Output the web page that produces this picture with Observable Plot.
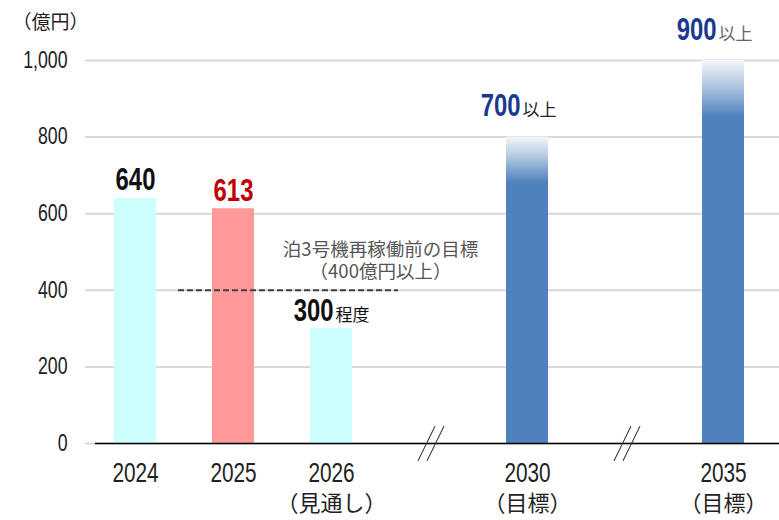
<!DOCTYPE html>
<html><head><meta charset="utf-8">
<script src="https://cdn.jsdelivr.net/npm/d3@7"></script>
<script src="https://cdn.jsdelivr.net/npm/@observablehq/plot@0.6"></script>
<style>body{margin:0;background:#fff}</style>
</head><body><div id="chart"></div>
<script>
// ---- data ----
const slots = ["2024", "2025", "2026", "gapA", "2030", "gapB", "2035"];
const categories = ["2024", "2025", "2026", "2030", "2035"];
const subLabels = ["", "", "（見通し）", "（目標）", "（目標）"];
const values = [640, 613, 300, 700, 900];
const fadeTops = [null, null, null, 800, 1000];
const suffixes = ["", "", "程度", "以上", "以上"];
const kinds = ["actual", "actual", "outlook", "target", "target"];
const barColors = ["#ccffff", "#ff9999", "#ccffff", null, null];
const numberColors = ["#111111", "#c00000", "#111111", "#1a3a8f", "#1a3a8f"];
const suffixColors = ["", "", "#111111", "#222222", "#666666"];
const gaps = ["gapA", "gapB"];
const yTicks = [0, 200, 400, 600, 800, 1000];
const goalValue = 400;
const goalLabel = ["泊3号機再稼働前の目標", "（400億円以上）"];
const unitLabel = "（億円）";

const rows = categories.map((c, i) => ({
  cat: c, sub: subLabels[i], value: values[i], fadeTop: fadeTops[i], suffix: suffixes[i],
  kind: kinds[i], color: barColors[i], numColor: numberColors[i], sufColor: suffixColors[i]
}));
const solid = rows.filter(d => d.kind !== "target");
const targets = rows.filter(d => d.kind === "target");
const outlook = rows.filter(d => d.kind === "outlook");
const actual = rows.filter(d => d.kind === "actual");

const NUM = "'Liberation Sans',Arial,sans-serif";
const CJK = "'Noto Sans CJK JP',sans-serif";

const slash = {draw(ctx, l) { ctx.moveTo(0, 0); ctx.lineTo(0, -l); }};

const svg = Plot.plot({
  width: 779, height: 520,
  marginLeft: 85, marginRight: 0, marginTop: 60, marginBottom: 77,
  style: {fontFamily: NUM, background: "#fff", overflow: "visible"},
  x: {type: "band", domain: slots, range: [85, 85 + 7 * 98.2], paddingInner: 0.57, paddingOuter: 0.285, align: 0.5, axis: null, label: null},
  y: {domain: [0, 1000], axis: null, label: null},
  marks: [
    Plot.ruleY(yTicks, {stroke: "#d9d9d9", strokeWidth: 2}),
    Plot.barY(solid, {x: "cat", y: "value", fill: "color"}),
    Plot.barY(targets, {x: "cat", y: "fadeTop", fill: "url(#fadeBlue)"}),
    Plot.ruleY([0], {stroke: "#000", strokeWidth: 1.5, insetLeft: 10}),
    Plot.vector(gaps, {x: d => d, y: () => 0, length: 38, rotate: 26, anchor: "middle", shape: slash, stroke: "#333", strokeWidth: 1, dx: -3}),
    Plot.vector(gaps, {x: d => d, y: () => 0, length: 38, rotate: 26, anchor: "middle", shape: slash, stroke: "#333", strokeWidth: 1, dx: 6}),
    Plot.ruleY([goalValue], {x1: () => "2025", x2: () => "2026", stroke: "#404040", strokeWidth: 2, strokeDasharray: "6,3", insetLeft: -34, insetRight: -46}),
    Plot.text([goalLabel.join("\n")], {x: () => "2026", y: () => goalValue, dx: 49, dy: -12, lineAnchor: "bottom", lineHeight: 1.18, fill: "#555", fontSize: 18.5, fontFamily: CJK}),
    Plot.axisY(yTicks, {tickSize: 0, tickPadding: 18, tickFormat: d3.format(","), fontSize: 23, fill: "#222", label: null}),
    Plot.axisX(categories, {tickSize: 0, tickPadding: 19, fontSize: 27, fill: "#222", label: null}),
    Plot.text(rows, {x: "cat", y: () => 0, text: "sub", dy: 60, fontSize: 22, fontFamily: CJK, fill: "#222"}),
    Plot.text(actual, {x: "cat", y: "value", text: d => String(d.value), fill: "numColor", lineAnchor: "bottom", dy: -8, fontSize: 31, fontWeight: "bold"}),
    Plot.text(outlook, {x: "cat", y: "value", text: d => String(d.value), fill: "numColor", lineAnchor: "bottom", dy: -8, dx: 2, textAnchor: "end", fontSize: 31, fontWeight: "bold"}),
    Plot.text(outlook, {x: "cat", y: "value", text: "suffix", fill: "sufColor", lineAnchor: "bottom", dy: -8, dx: 4, textAnchor: "start", fontSize: 17, fontFamily: CJK}),
    Plot.text(targets, {x: "cat", y: "fadeTop", text: d => String(d.value), fill: "numColor", lineAnchor: "bottom", dy: -21, dx: -7, textAnchor: "end", fontSize: 31, fontWeight: "bold"}),
    Plot.text(targets, {x: "cat", y: "fadeTop", text: "suffix", fill: "sufColor", lineAnchor: "bottom", dy: -21, dx: -5, textAnchor: "start", fontSize: 17, fontFamily: CJK}),
    Plot.text([unitLabel], {frameAnchor: "top-left", dx: -73, dy: -45, fontSize: 19, fontFamily: CJK, fill: "#222", textAnchor: "start"})
  ]
});

const defs = d3.select(svg).insert("defs", ":first-child");
const g = defs.append("linearGradient").attr("id", "fadeBlue").attr("x1", 0).attr("x2", 0).attr("y1", 0).attr("y2", 1);
g.append("stop").attr("offset", "0%").attr("stop-color", "#f4f7fb");
g.append("stop").attr("offset", "6%").attr("stop-color", "#b9cce4");
g.append("stop").attr("offset", "15%").attr("stop-color", "#4f81bd");
g.append("stop").attr("offset", "100%").attr("stop-color", "#4f81bd");

// horizontally condense the numeric labels (narrow-font look)
const SX = 0.77;
svg.querySelectorAll("text").forEach(t => {
  if (!/^[\d,]+$/.test(t.textContent.trim())) return;
  const tr = t.getAttribute("transform");
  if (tr) t.setAttribute("transform", tr + ` scale(${SX},1)`);
  else {
    const x = +t.getAttribute("x") || 0;
    t.setAttribute("transform", `translate(${x},0) scale(${SX},1) translate(${-x},0)`);
  }
});

document.getElementById("chart").appendChild(svg);
</script>
</body></html>
